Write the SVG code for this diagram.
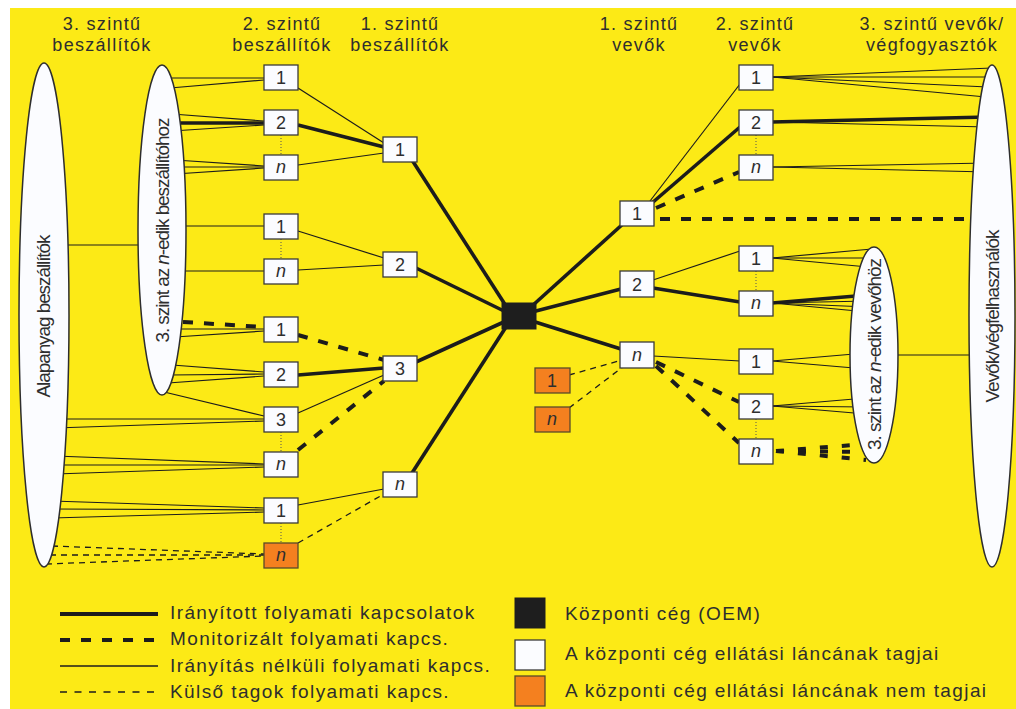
<svg xmlns="http://www.w3.org/2000/svg" width="1016" height="709" viewBox="0 0 1016 709">
  <style>
    .bg { fill: #FCEA16; }
    .txt { font-family: "Liberation Sans", Arial, sans-serif; fill: #2e2e2e; }
    .hdr { font-size: 18px; letter-spacing: 1.3px; text-anchor: middle; }
    .lbl { font-size: 18px; text-anchor: middle; }
    .rot { font-size: 19px; text-anchor: middle; }
    .leg { font-size: 19px; letter-spacing: 1.4px; }
    .it { font-style: italic; }
    .box { fill: #FBFCFF; stroke: #3a3a3a; stroke-width: 1.3; }
    .ext { fill: #F4801F; stroke: #5a4a2a; stroke-width: 1.3; }
    .oem { fill: #1e1e1e; stroke: #1e1e1e; stroke-width: 1; }
    .ell { fill: #FBFCFF; stroke: #2e2e2e; stroke-width: 1.5; }
    .thick { stroke: #1c1c1c; stroke-width: 3.6; fill: none; }
    .thin { stroke: #1c1c1c; stroke-width: 1.2; fill: none; }
    .mon { stroke: #1c1c1c; stroke-width: 4; stroke-dasharray: 10 11; fill: none; }
    .mon2 { stroke: #1c1c1c; stroke-width: 4; stroke-dasharray: 8 14; fill: none; }
    .out { stroke: #1c1c1c; stroke-width: 1.3; stroke-dasharray: 6 5; fill: none; }
    .dot { stroke: #555; stroke-width: 1; stroke-dasharray: 1 2; fill: none; }
  </style>

  <!-- page background -->
  <rect x="0" y="0" width="1016" height="709" fill="#ffffff"/>
  <rect class="bg" x="10" y="8" width="1006" height="701"/>

  <!-- column headers -->
  <g id="headers" class="txt hdr">
    <text x="102" y="30">3. szintű</text>
    <text x="102" y="51">beszállítók</text>
    <text x="282" y="30">2. szintű</text>
    <text x="282" y="51">beszállítók</text>
    <text x="400" y="30">1. szintű</text>
    <text x="400" y="51">beszállítók</text>
    <text x="639" y="30">1. szintű</text>
    <text x="639" y="51">vevők</text>
    <text x="755" y="30">2. szintű</text>
    <text x="755" y="51">vevők</text>
    <text x="932" y="30">3. szintű vevők/</text>
    <text x="932" y="51">végfogyasztók</text>
  </g>

  <!-- connectors -->
  <g id="connectors">
    <!-- ellipse to ellipse links -->
    <line class="thin" x1="55" y1="245" x2="150" y2="245"/>
    <line class="thin" x1="880" y1="355" x2="985" y2="355"/>

    <!-- 3rd tier (n-th supplier group) to 2nd tier suppliers -->
    <line class="thin" x1="168" y1="78" x2="264" y2="78"/>
    <line class="thin" x1="170" y1="88" x2="264" y2="80"/>
    <line class="thin" x1="172" y1="114" x2="264" y2="121"/>
    <line class="thick" x1="172" y1="123" x2="264" y2="123"/>
    <line class="thin" x1="172" y1="131" x2="264" y2="125"/>
    <line class="thin" x1="175" y1="160" x2="264" y2="166"/>
    <line class="thin" x1="175" y1="167" x2="264" y2="167"/>
    <line class="thin" x1="175" y1="174" x2="264" y2="168"/>
    <line class="thin" x1="175" y1="226" x2="264" y2="226"/>
    <line class="thin" x1="175" y1="271" x2="264" y2="271"/>
    <line class="mon" x1="183" y1="322" x2="264" y2="327"/>
    <line class="thin" x1="175" y1="329" x2="264" y2="329"/>
    <line class="thin" x1="175" y1="337" x2="264" y2="331"/>
    <line class="thin" x1="172" y1="365" x2="264" y2="372"/>
    <line class="thin" x1="170" y1="375" x2="264" y2="374"/>
    <line class="thin" x1="168" y1="383" x2="264" y2="376"/>
    <line class="thin" x1="160" y1="391" x2="264" y2="416"/>

    <!-- raw material suppliers to 2nd tier suppliers -->
    <line class="thin" x1="55" y1="419" x2="264" y2="419"/>
    <line class="thin" x1="55" y1="428" x2="264" y2="421"/>
    <line class="thin" x1="55" y1="456" x2="264" y2="464"/>
    <line class="thin" x1="55" y1="465" x2="264" y2="465"/>
    <line class="thin" x1="55" y1="474" x2="264" y2="467"/>
    <line class="thin" x1="52" y1="501" x2="264" y2="508"/>
    <line class="thin" x1="52" y1="509" x2="264" y2="510"/>
    <line class="thin" x1="52" y1="518" x2="264" y2="512"/>
    <line class="out" x1="52" y1="546" x2="264" y2="554"/>
    <line class="out" x1="50" y1="555" x2="264" y2="555"/>
    <line class="out" x1="46" y1="564" x2="264" y2="556"/>

    <!-- 2nd tier to 1st tier suppliers -->
    <line class="thin" x1="298" y1="88" x2="384" y2="143"/>
    <line class="thick" x1="298" y1="125" x2="384" y2="147"/>
    <line class="thin" x1="298" y1="165" x2="384" y2="153"/>
    <line class="thin" x1="298" y1="231" x2="384" y2="258"/>
    <line class="thin" x1="298" y1="270" x2="384" y2="265"/>
    <line class="mon" x1="298" y1="335" x2="384" y2="360"/>
    <line class="thick" x1="298" y1="375" x2="384" y2="368"/>
    <line class="thin" x1="298" y1="413" x2="384" y2="375"/>
    <line class="mon" x1="298" y1="450" x2="384" y2="381"/>
    <line class="thin" x1="298" y1="505" x2="384" y2="489"/>
    <line class="out" x1="298" y1="543" x2="384" y2="494"/>

    <!-- 1st tier suppliers to the focal company -->
    <line class="thick" x1="412" y1="160" x2="506" y2="306"/>
    <line class="thick" x1="416" y1="268" x2="506" y2="312"/>
    <line class="thick" x1="416" y1="362" x2="506" y2="321"/>
    <line class="thick" x1="412" y1="473" x2="506" y2="327"/>

    <!-- focal company to 1st tier customers -->
    <line class="thick" x1="532" y1="306" x2="624" y2="223"/>
    <line class="thick" x1="532" y1="312" x2="621" y2="289"/>
    <line class="thick" x1="532" y1="321" x2="621" y2="349"/>

    <!-- 1st tier to 2nd tier customers -->
    <line class="thin" x1="650" y1="201" x2="740" y2="84"/>
    <line class="thick" x1="652" y1="203" x2="740" y2="127"/>
    <line class="mon" x1="656" y1="208" x2="739" y2="172"/>
    <line class="mon" x1="660" y1="219" x2="975" y2="219"/>
    <line class="thin" x1="653" y1="280" x2="740" y2="251"/>
    <line class="thick" x1="653" y1="288" x2="740" y2="302"/>
    <line class="thin" x1="653" y1="356" x2="740" y2="361"/>
    <line class="mon" x1="656" y1="362" x2="739" y2="402"/>
    <line class="mon" x1="656" y1="366" x2="739" y2="443"/>
    <line class="out" x1="569" y1="375" x2="622" y2="360"/>
    <line class="out" x1="569" y1="408" x2="624" y2="366"/>

    <!-- 2nd tier customers to end users -->
    <line class="thin" x1="772" y1="77" x2="992" y2="68"/>
    <line class="thin" x1="772" y1="77" x2="990" y2="77"/>
    <line class="thin" x1="772" y1="77" x2="988" y2="87"/>
    <line class="thin" x1="772" y1="77" x2="986" y2="97"/>
    <line class="thick" x1="772" y1="122" x2="988" y2="117"/>
    <line class="thin" x1="772" y1="122" x2="988" y2="127"/>
    <line class="thin" x1="772" y1="167" x2="988" y2="163"/>
    <line class="thin" x1="772" y1="167" x2="988" y2="172"/>

    <!-- 2nd tier customers to the n-th customer group -->
    <line class="thin" x1="772" y1="258" x2="872" y2="249"/>
    <line class="thin" x1="772" y1="258" x2="870" y2="258"/>
    <line class="thin" x1="772" y1="258" x2="868" y2="267"/>
    <line class="thick" x1="772" y1="303" x2="868" y2="295"/>
    <line class="thin" x1="772" y1="303" x2="868" y2="301"/>
    <line class="thin" x1="772" y1="303" x2="868" y2="307"/>
    <line class="thin" x1="772" y1="303" x2="868" y2="312"/>
    <line class="thin" x1="772" y1="361" x2="866" y2="353"/>
    <line class="thin" x1="772" y1="361" x2="866" y2="369"/>
    <line class="thin" x1="772" y1="406" x2="866" y2="398"/>
    <line class="thin" x1="772" y1="406" x2="866" y2="407"/>
    <line class="thin" x1="772" y1="406" x2="866" y2="414"/>
    <line class="mon2" x1="776" y1="451" x2="866" y2="444"/>
    <line class="mon2" x1="776" y1="451" x2="866" y2="452"/>
    <line class="mon2" x1="776" y1="451" x2="866" y2="460"/>

    <!-- dotted ranges between numbered members -->
    <line class="dot" x1="281" y1="135" x2="281" y2="155"/>
    <line class="dot" x1="281" y1="239" x2="281" y2="259"/>
    <line class="dot" x1="281" y1="432" x2="281" y2="452"/>
    <line class="dot" x1="281" y1="523" x2="281" y2="543"/>
    <line class="dot" x1="756" y1="135" x2="756" y2="155"/>
    <line class="dot" x1="756" y1="271" x2="756" y2="291"/>
    <line class="dot" x1="756" y1="419" x2="756" y2="439"/>
  </g>

  <!-- outer groups (ellipses) -->
  <g id="raw-suppliers">
    <ellipse class="ell" cx="44" cy="315" rx="25" ry="252"/>
    <text class="txt rot" x="50" y="316" textLength="163" transform="rotate(-90 50 316)">Alapanyag beszállítók</text>
  </g>
  <g id="nth-suppliers">
    <ellipse class="ell" cx="162" cy="230" rx="24" ry="165"/>
    <text class="txt rot" x="169" y="230" textLength="225" transform="rotate(-90 169 230)">3. szint az <tspan class="it">n</tspan>-edik beszállítóhoz</text>
  </g>
  <g id="nth-customers">
    <ellipse class="ell" cx="874" cy="355" rx="24" ry="108"/>
    <text class="txt rot" x="881" y="354" textLength="192" transform="rotate(-90 881 354)">3. szint az <tspan class="it">n</tspan>-edik vevőhöz</text>
  </g>
  <g id="end-users">
    <ellipse class="ell" cx="992" cy="316" rx="23" ry="251"/>
    <text class="txt rot" x="999" y="316" textLength="173" transform="rotate(-90 999 316)">Vevők/végfelhasználók</text>
  </g>

  <!-- 2nd tier suppliers -->
  <g id="s2-1a"><rect class="box" x="264" y="65" width="34" height="25"/><text class="txt lbl" x="281" y="84">1</text></g>
  <g id="s2-2a"><rect class="box" x="264" y="110" width="34" height="25"/><text class="txt lbl" x="281" y="129">2</text></g>
  <g id="s2-na"><rect class="box" x="264" y="155" width="34" height="25"/><text class="txt lbl it" x="281" y="173">n</text></g>
  <g id="s2-1b"><rect class="box" x="264" y="214" width="34" height="25"/><text class="txt lbl" x="281" y="233">1</text></g>
  <g id="s2-nb"><rect class="box" x="264" y="259" width="34" height="25"/><text class="txt lbl it" x="281" y="277">n</text></g>
  <g id="s2-1c"><rect class="box" x="264" y="317" width="34" height="25"/><text class="txt lbl" x="281" y="336">1</text></g>
  <g id="s2-2c"><rect class="box" x="264" y="362" width="34" height="25"/><text class="txt lbl" x="281" y="381">2</text></g>
  <g id="s2-3c"><rect class="box" x="264" y="407" width="34" height="25"/><text class="txt lbl" x="281" y="426">3</text></g>
  <g id="s2-nc"><rect class="box" x="264" y="452" width="34" height="25"/><text class="txt lbl it" x="281" y="470">n</text></g>
  <g id="s2-1d"><rect class="box" x="264" y="498" width="34" height="25"/><text class="txt lbl" x="281" y="517">1</text></g>
  <g id="s2-nd"><rect class="ext" x="264" y="543" width="34" height="25"/><text class="txt lbl it" x="281" y="561">n</text></g>

  <!-- 1st tier suppliers -->
  <g id="s1-1"><rect class="box" x="383" y="137" width="34" height="25"/><text class="txt lbl" x="400" y="156">1</text></g>
  <g id="s1-2"><rect class="box" x="383" y="252" width="34" height="25"/><text class="txt lbl" x="400" y="271">2</text></g>
  <g id="s1-3"><rect class="box" x="383" y="356" width="34" height="25"/><text class="txt lbl" x="400" y="375">3</text></g>
  <g id="s1-n"><rect class="box" x="383" y="472" width="34" height="25"/><text class="txt lbl it" x="400" y="490">n</text></g>

  <!-- focal company -->
  <g id="oem"><rect class="oem" x="502" y="303" width="34" height="26"/></g>

  <!-- outside members near the focal company -->
  <g id="x-1"><rect class="ext" x="535" y="368" width="35" height="25"/><text class="txt lbl" x="552" y="387">1</text></g>
  <g id="x-n"><rect class="ext" x="535" y="407" width="35" height="25"/><text class="txt lbl it" x="552" y="425">n</text></g>

  <!-- 1st tier customers -->
  <g id="c1-1"><rect class="box" x="620" y="201" width="34" height="25"/><text class="txt lbl" x="637" y="220">1</text></g>
  <g id="c1-2"><rect class="box" x="620" y="271" width="34" height="26"/><text class="txt lbl" x="637" y="291">2</text></g>
  <g id="c1-n"><rect class="box" x="620" y="342" width="34" height="26"/><text class="txt lbl it" x="637" y="361">n</text></g>

  <!-- 2nd tier customers -->
  <g id="c2-1a"><rect class="box" x="739" y="65" width="34" height="25"/><text class="txt lbl" x="756" y="84">1</text></g>
  <g id="c2-2a"><rect class="box" x="739" y="110" width="34" height="25"/><text class="txt lbl" x="756" y="129">2</text></g>
  <g id="c2-na"><rect class="box" x="739" y="155" width="34" height="25"/><text class="txt lbl it" x="756" y="173">n</text></g>
  <g id="c2-1b"><rect class="box" x="739" y="246" width="34" height="25"/><text class="txt lbl" x="756" y="265">1</text></g>
  <g id="c2-nb"><rect class="box" x="739" y="291" width="34" height="25"/><text class="txt lbl it" x="756" y="309">n</text></g>
  <g id="c2-1c"><rect class="box" x="739" y="349" width="34" height="25"/><text class="txt lbl" x="756" y="368">1</text></g>
  <g id="c2-2c"><rect class="box" x="739" y="394" width="34" height="25"/><text class="txt lbl" x="756" y="413">2</text></g>
  <g id="c2-nc"><rect class="box" x="739" y="439" width="34" height="25"/><text class="txt lbl it" x="756" y="457">n</text></g>

  <!-- legend -->
  <g id="legend">
    <line class="thick" x1="60" y1="614" x2="158" y2="614" style="stroke-width:4"/>
    <line class="mon" x1="60" y1="640" x2="158" y2="640"/>
    <line class="thin" x1="60" y1="666" x2="158" y2="666" style="stroke-width:1.5"/>
    <line class="out" x1="60" y1="692" x2="158" y2="692" style="stroke-dasharray:7 7.5"/>
    <text class="txt leg" x="170" y="619">Irányított folyamati kapcsolatok</text>
    <text class="txt leg" x="170" y="645">Monitorizált folyamati kapcs.</text>
    <text class="txt leg" x="170" y="672">Irányítás nélküli folyamati kapcs.</text>
    <text class="txt leg" x="170" y="698">Külső tagok folyamati kapcs.</text>

    <rect class="oem" x="515" y="598" width="30" height="30"/>
    <rect class="box" x="515" y="640" width="30" height="30"/>
    <rect class="ext" x="515" y="676" width="30" height="30"/>
    <text class="txt leg" x="565" y="620">Központi cég (OEM)</text>
    <text class="txt leg" x="565" y="660">A központi cég ellátási láncának tagjai</text>
    <text class="txt leg" x="565" y="697">A központi cég ellátási láncának nem tagjai</text>
  </g>
</svg>
